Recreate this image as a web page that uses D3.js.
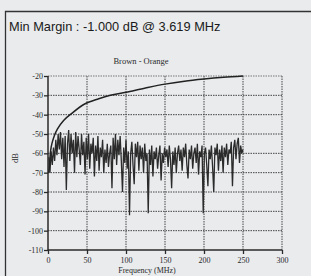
<!DOCTYPE html>
<html><head><meta charset="utf-8">
<script src="https://cdn.jsdelivr.net/npm/d3@7"></script>
<style>html,body{margin:0;padding:0;background:#e9ebed;overflow:hidden}</style>
</head><body>
<svg id="c" width="311" height="276"></svg>
<script>
const headline = "Min Margin : -1.000 dB @ 3.619 MHz";
const chartTitle = "Brown - Orange";
const xTitle = "Frequency (MHz)";
const yTitle = "dB";
const xTicks = [0, 50, 100, 150, 200, 250, 300];
const yTicks = [-20, -30, -40, -50, -60, -70, -80, -90, -100, -110];

// limit curve (MHz, dB)
const limitFreq = [1, 2, 3.6, 5, 8, 12, 20, 30, 47, 65, 80, 100, 125, 150, 175, 200, 225, 250];
const limitDb   = [-70, -65, -58, -55, -51, -47.5, -43, -39.5, -34.5, -31.8, -30, -28.4, -26.2, -24.2, -22.7, -21.6, -20.7, -20];

// measured noise, sampled every 1.5 MHz from 1 MHz
const noiseStart = 1, noiseStep = 1.5;
const noiseDb = [
 -62,-70,-59,-66,-57,-64,-53,-61,-50,-58,
 -49,-63,-52,-67,-51,-79,-55,-48,-64,-50,
 -60,-53,-70,-49,-62,-51,-58,-66,-50,-61,
 -54,-71,-52,-63,-50,-68,-55,-60,-52,-72,
 -56,-64,-51,-69,-57,-62,-53,-70,-58,-65,
 -55,-67,-60,-56,-78,-52,-63,-50,-66,-53,
 -61,-51,-64,-80,-57,-65,-53,-68,-59,-92,
 -60,-54,-66,-76,-55,-62,-54,-69,-56,-63,
 -57,-70,-55,-64,-60,-91,-58,-66,-56,-72,
 -59,-63,-57,-68,-61,-56,-74,-60,-65,-57,
 -62,-58,-67,-56,-63,-78,-59,-66,-57,-70,
 -60,-56,-64,-58,-69,-57,-62,-55,-66,-73,
 -58,-63,-56,-68,-60,-57,-65,-55,-71,-59,
 -62,-56,-91,-60,-57,-66,-77,-58,-63,-56,
 -67,-80,-57,-61,-55,-69,-58,-64,-56,-70,
 -57,-62,-55,-66,-58,-60,-54,-77,-57,-53,
 -63,-55,-52,-65,-56,-60,-58
];

const svg = d3.select("#c");
const L = 48, R = 282, T = 76, B = 250;
const x = d3.scaleLinear().domain([0, 300]).range([L, R]);
const y = d3.scaleLinear().domain([-20, -110]).range([T, B]);
const serif = "'Liberation Serif','Times New Roman',serif";
const sans = "'Liberation Sans',Arial,sans-serif";
const ink = "#2a2a2a";

// outer frame
svg.append("path").attr("d", "M5.5,300 V11.5 H320")
  .attr("fill", "none").attr("stroke", "#333").attr("stroke-width", 1.3);

svg.append("text").attr("x", 9).attr("y", 30.5).text(headline)
  .attr("font-family", sans).attr("font-size", 12.8).attr("fill", "#1a1a1a");

svg.append("text").attr("x", 141).attr("y", 64).attr("text-anchor", "middle").text(chartTitle)
  .attr("font-family", serif).attr("font-size", 8.5).attr("fill", ink);

// grid
const g = svg.append("g");
g.selectAll("line.v").data(xTicks.filter(d => d > 0)).join("line")
  .attr("x1", d => x(d)).attr("x2", d => x(d)).attr("y1", T).attr("y2", B)
  .attr("stroke", "#444").attr("stroke-width", 1).attr("stroke-dasharray", "1.5,1");
g.selectAll("line.h").data(yTicks.filter(d => d > -110)).join("line")
  .attr("x1", L).attr("x2", R).attr("y1", d => y(d)).attr("y2", d => y(d))
  .attr("stroke", d => d === -20 ? "#777" : "#444").attr("stroke-width", 1).attr("stroke-dasharray", "1.5,1");

// axes
const fmt = d => String(d);
const xAxis = d3.axisBottom(x).tickValues(xTicks).tickFormat(fmt).tickSize(4).tickPadding(3);
const yAxis = d3.axisLeft(y).tickValues(yTicks).tickFormat(fmt).tickSize(4).tickPadding(1);
const gx = svg.append("g").attr("transform", `translate(0,${B})`).call(xAxis);
const gy = svg.append("g").attr("transform", `translate(${L},0)`).call(yAxis);
[gx, gy].forEach(a => {
  a.select(".domain").attr("stroke", ink).attr("stroke-width", 1.5);
  a.selectAll(".tick line").attr("stroke", ink).attr("stroke-width", 1.3);
  a.selectAll("text").attr("font-family", serif).attr("font-size", 8).attr("fill", ink);
});
gy.select(".domain").attr("d", `M0,${T}V${B}`);
gx.select(".domain").attr("d", `M${L},0H${R}`);

svg.append("text").attr("x", 147).attr("y", 273).attr("text-anchor", "middle").text(xTitle)
  .attr("font-family", serif).attr("font-size", 8).attr("fill", ink);
svg.append("text").attr("transform", "translate(18,158) rotate(-90)").attr("text-anchor", "middle").text(yTitle)
  .attr("font-family", serif).attr("font-size", 8.5).attr("fill", ink);

// noise
const noise = noiseDb.map((v, i) => [noiseStart + i * noiseStep, v]);
svg.append("path").datum(noise)
  .attr("d", d3.line().x(d => x(d[0])).y(d => y(d[1])))
  .attr("fill", "none").attr("stroke", "#2b2b2b").attr("stroke-width", 1.3);

// limit
const lim = limitFreq.map((f, i) => [f, limitDb[i]]);
svg.append("path").datum(lim)
  .attr("d", d3.line().curve(d3.curveCatmullRom).x(d => x(d[0])).y(d => y(d[1])))
  .attr("fill", "none").attr("stroke", "#222").attr("stroke-width", 1.5);
</script>
</body></html>
